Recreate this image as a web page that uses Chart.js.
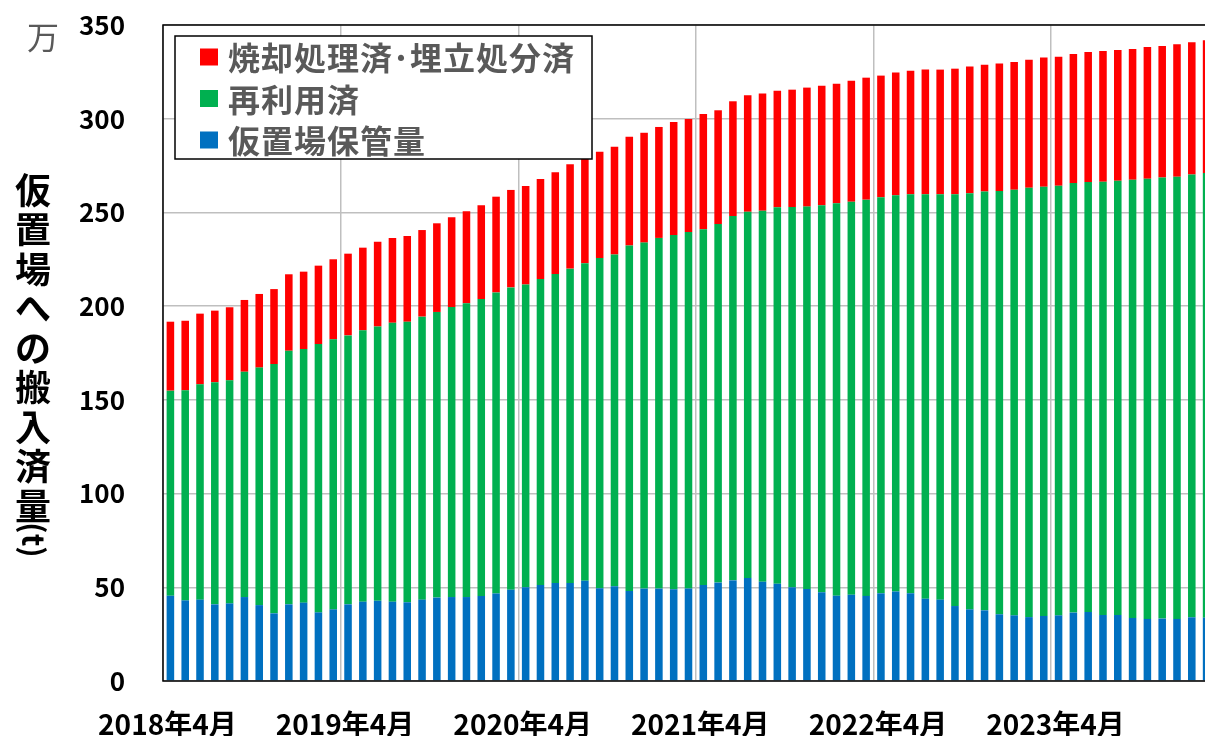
<!DOCTYPE html>
<html lang="ja">
<head>
<meta charset="utf-8">
<script src="https://cdn.jsdelivr.net/npm/chart.js@4.4.1/dist/chart.umd.min.js"></script>
<style>
html, body { margin: 0; padding: 0; overflow: hidden; background: #fff; }
#chart { display: block; }
</style>
</head>
<body>
<canvas id="chart" width="1214" height="736"></canvas>
<script>
const months = [
    '2018年4月', '2018年5月', '2018年6月', '2018年7月', '2018年8月', '2018年9月', '2018年10月', '2018年11月', '2018年12月',
    '2019年1月', '2019年2月', '2019年3月', '2019年4月', '2019年5月', '2019年6月', '2019年7月', '2019年8月', '2019年9月', '2019年10月', '2019年11月', '2019年12月',
    '2020年1月', '2020年2月', '2020年3月', '2020年4月', '2020年5月', '2020年6月', '2020年7月', '2020年8月', '2020年9月', '2020年10月', '2020年11月', '2020年12月',
    '2021年1月', '2021年2月', '2021年3月', '2021年4月', '2021年5月', '2021年6月', '2021年7月', '2021年8月', '2021年9月', '2021年10月', '2021年11月', '2021年12月',
    '2022年1月', '2022年2月', '2022年3月', '2022年4月', '2022年5月', '2022年6月', '2022年7月', '2022年8月', '2022年9月', '2022年10月', '2022年11月', '2022年12月',
    '2023年1月', '2023年2月', '2023年3月', '2023年4月', '2023年5月', '2023年6月', '2023年7月', '2023年8月', '2023年9月', '2023年10月', '2023年11月', '2023年12月',
    '2024年1月', '2024年2月'
];

// 万t
const storage = [
    45.5, 43.0, 43.4, 40.9, 41.4, 44.8, 40.5, 36.1, 40.9, 41.8, 36.6, 38.2,
    40.9, 42.3, 42.8, 42.3, 42.0, 43.4, 44.5, 44.8, 44.8, 45.4, 46.7, 48.7,
    50.0, 51.2, 52.3, 52.3, 53.5, 49.5, 50.5, 48.0, 49.3, 49.3, 48.9, 49.3,
    51.2, 52.5, 53.7, 55.0, 53.0, 51.9, 50.0, 49.1, 47.3, 45.5, 46.0, 45.4,
    46.8, 47.7, 46.8, 43.9, 43.4, 40.0, 38.2, 37.7, 35.6, 35.0, 34.1, 34.7,
    35.0, 36.5, 36.8, 35.2, 35.2, 33.6, 33.1, 33.3, 33.1, 34.0, 33.8
];
const recycled = [
    109.4, 112.1, 114.9, 118.5, 119.0, 120.2, 126.7, 133.0, 135.3, 135.3, 143.2, 144.1,
    143.5, 144.8, 146.4, 148.9, 149.7, 151.0, 152.4, 154.7, 156.7, 158.4, 160.6, 161.3,
    161.6, 163.3, 164.8, 167.7, 169.4, 176.2, 177.0, 184.3, 184.6, 187.1, 189.1, 190.3,
    189.8, 191.3, 194.4, 195.4, 197.9, 200.8, 202.9, 204.0, 206.5, 209.4, 209.7, 211.4,
    211.3, 211.4, 212.9, 215.8, 216.3, 219.7, 222.0, 223.4, 225.8, 227.1, 229.1, 229.0,
    229.3, 229.2, 229.4, 231.2, 231.7, 233.9, 234.9, 235.3, 236.0, 236.2, 237.2
];
const disposed = [
    36.8, 37.1, 37.7, 38.2, 39.0, 38.3, 39.3, 40.0, 40.8, 41.3, 41.8, 42.7,
    43.6, 44.1, 45.2, 45.2, 45.7, 46.2, 47.3, 47.9, 49.1, 50.0, 51.1, 52.0,
    52.5, 53.3, 54.3, 55.7, 56.6, 56.7, 57.6, 58.1, 58.6, 59.2, 60.2, 60.2,
    61.5, 60.7, 61.2, 62.1, 62.6, 62.2, 62.6, 63.5, 63.8, 63.8, 64.5, 65.1,
    64.9, 65.5, 65.9, 66.5, 66.5, 67.0, 67.6, 67.7, 68.0, 68.2, 68.3, 68.9,
    68.8, 68.8, 69.4, 69.7, 69.8, 69.7, 70.3, 70.2, 70.6, 70.6, 70.8
];

const seriesNames = ['仮置場保管量', '再利用済', '焼却処理済･埋立処分済'];
const yMax = 350;
const yStep = 50;
const unitLabel = '万';
const yTitleChars = ['仮', '置', '場', 'へ', 'の', '搬', '入', '済', '量'];
const yTitleUnit = '(t)';

const COLORS = {
    red: '#ff0000',
    green: '#00b050',
    blue: '#0070c0',
    grid: '#bfbfbf',
    text: '#595959'
};
const FONT = "'Noto Sans CJK JP', 'Noto Sans', sans-serif";
const NONE = 'rgba(0,0,0,0)';

// frame, unit, vertical axis title and the legend box inside the plot
const decorations = {
    id: 'decorations',
    afterDraw(chart) {
        const ctx = chart.ctx;
        const a = chart.chartArea;
        ctx.save();
        ctx.strokeStyle = '#000';
        ctx.lineWidth = 1.5;
        ctx.strokeRect(a.left, a.top, a.right - a.left, a.bottom - a.top);

        ctx.textAlign = 'center';
        ctx.textBaseline = 'middle';
        ctx.fillStyle = COLORS.text;
        ctx.font = '32px ' + FONT;
        ctx.fillText(unitLabel, 43, 37);

        ctx.fillStyle = '#000';
        ctx.font = 'bold 36px ' + FONT;
        yTitleChars.forEach((c, i) => ctx.fillText(c, 33, 190 + i * 39.5));
        ctx.save();
        ctx.translate(33, 540);
        ctx.rotate(Math.PI / 2);
        ctx.font = 'bold 30px ' + FONT;
        ctx.fillText(yTitleUnit, 0, 0);
        ctx.restore();

        // legend, top series first
        ctx.fillStyle = '#fff';
        ctx.fillRect(175, 36, 417, 123);
        ctx.strokeRect(175, 36, 417, 123);
        const items = chart.data.datasets.slice().reverse();
        ctx.textAlign = 'left';
        ctx.font = 'bold 32px ' + FONT;
        ctx.letterSpacing = '1px';
        items.forEach((ds, i) => {
            const y = 57 + i * 41.5;
            ctx.fillStyle = ds.backgroundColor;
            ctx.fillRect(200, y - 8.5, 18, 17);
            ctx.fillStyle = COLORS.text;
            ctx.fillText(ds.label, 228, y + 1);
        });
        ctx.restore();
    }
};

new Chart(document.getElementById('chart'), {
    type: 'bar',
    data: {
        labels: months,
        datasets: [
            { label: seriesNames[0], data: storage, backgroundColor: COLORS.blue },
            { label: seriesNames[1], data: recycled, backgroundColor: COLORS.green },
            { label: seriesNames[2], data: disposed, backgroundColor: COLORS.red }
        ]
    },
    options: {
        responsive: false,
        animation: false,
        devicePixelRatio: 1,
        layout: { padding: { top: 25, left: 0, right: 0, bottom: 0 } },
        datasets: { bar: { categoryPercentage: 1, barPercentage: 0.51 } },
        plugins: { legend: { display: false }, tooltip: { enabled: false } },
        scales: {
            x: {
                stacked: true,
                afterFit: (scale) => { scale.height = 55; },
                grid: {
                    offset: true,
                    tickLength: 27,
                    tickColor: NONE,
                    lineWidth: 1.5,
                    color: (c) => (c.index % 12 === 0 ? COLORS.grid : NONE)
                },
                border: { display: false },
                ticks: {
                    autoSkip: false,
                    maxRotation: 0,
                    padding: 0,
                    labelOffset: -3,
                    color: '#000',
                    font: { family: FONT, size: 28, weight: 'bold' },
                    callback: (v, i) => (months[i].endsWith('年4月') ? months[i] : '')
                }
            },
            y: {
                stacked: true,
                min: 0,
                max: yMax,
                afterFit: (scale) => { scale.width = 163; },
                grid: { tickLength: 38, tickColor: NONE, lineWidth: 1.5, color: COLORS.grid },
                border: { display: false },
                ticks: {
                    stepSize: yStep,
                    padding: 0,
                    color: '#000',
                    font: { family: FONT, size: 26, weight: 'bold' }
                }
            }
        }
    },
    plugins: [decorations]
});
</script>
</body>
</html>
